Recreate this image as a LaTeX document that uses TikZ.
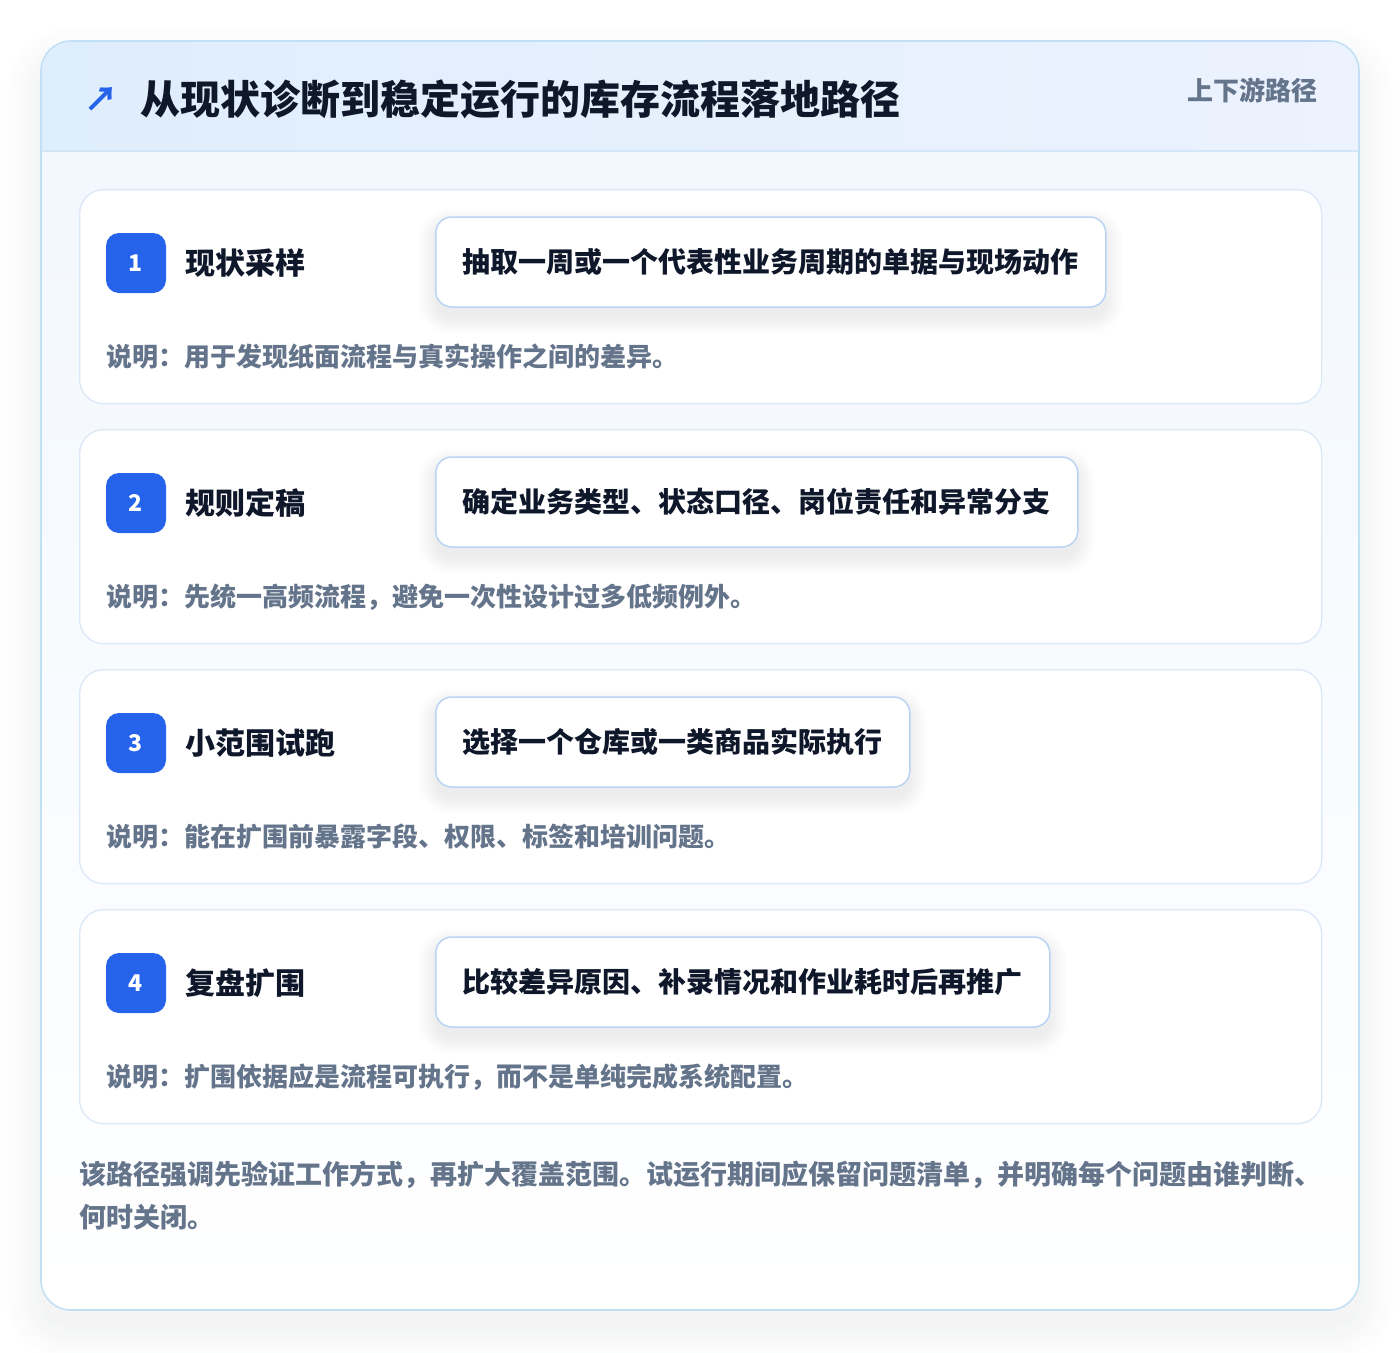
\documentclass[tikz,border=0pt]{standalone}
\usepackage{fontspec}
\setmainfont{Noto Sans CJK SC}
\definecolor{cardborder}{HTML}{C2E0F5}
\definecolor{headleft}{HTML}{DFEEFC}
\definecolor{headright}{HTML}{ECF2FE}
\definecolor{headline}{HTML}{D3E6F7}
\definecolor{bodytop}{HTML}{F1F7FE}
\definecolor{stepborder}{HTML}{DAE8F8}
\definecolor{boxborder}{HTML}{BAD4F4}
\definecolor{badgeblue}{HTML}{2563EB}
\definecolor{darktext}{HTML}{0F172A}
\definecolor{graytext}{HTML}{64748B}
\definecolor{shadowcol}{HTML}{1E293B}
\tikzset{
  stepcard/.style={draw=stepborder, line width=1.3pt, fill=white, rounded corners=24pt,
    minimum width=1242pt, minimum height=214pt, anchor=north west, inner sep=0pt},
  badge/.style={fill=badgeblue, rounded corners=13pt, minimum size=60pt, inner sep=0pt,
    text=white, font=\bfseries\fontsize{23}{23}\selectfont},
  steptitle/.style={anchor=west, inner sep=0pt, text=darktext, font=\bfseries\fontsize{30}{30}\selectfont},
  textbox/.style={anchor=west, draw=boxborder, line width=1.5pt, fill=white, rounded corners=16pt,
    minimum height=90pt, inner xsep=27pt, inner ysep=0pt, text=darktext,
    font=\bfseries\fontsize{28}{28}\selectfont},
  desc/.style={anchor=west, inner sep=0pt, text=graytext, font=\bfseries\fontsize{26}{26}\selectfont},
  foot/.style={anchor=west, inner sep=0pt, text=graytext, font=\bfseries\fontsize{27}{27}\selectfont},
}
\begin{document}
\begin{tikzpicture}[x=1pt,y=-1pt]
\useasboundingbox (0,0) rectangle (1400,1352);
% soft shadow of the outer card
\foreach \k [evaluate=\k as \r using 30+\k] in {0,3,...,36}{
  \fill[shadowcol, opacity=0.0045, rounded corners=\r pt] (41-\k,41-\k+22) rectangle (1359+\k,1310+\k+16);
}
% outer card
\shade[top color=bodytop, bottom color=white, rounded corners=30pt] (41,41) rectangle (1359,1310);
\begin{scope}
  \clip[rounded corners=30pt] (41,41) rectangle (1359,1310);
  \shade[left color=headleft, right color=headright] (41,41) rectangle (1359,151);
  \draw[headline, line width=1.2pt] (41,151) -- (1359,151);
\end{scope}
\draw[cardborder, line width=1.6pt, rounded corners=30pt] (41,41) rectangle (1359,1310);
% header texts
\node[inner sep=0pt, text=badgeblue, font=\bfseries\fontsize{34}{34}\selectfont] (arrow) at (101,99) {↗};
\node[anchor=west, inner sep=0pt, text=darktext, font=\bfseries\fontsize{40}{40}\selectfont] (title) at (140,99) {从现状诊断到稳定运行的库存流程落地路径};
\node[anchor=east, inner sep=0pt, text=graytext, font=\bfseries\fontsize{26}{26}\selectfont] (sub) at (1318,90) {上下游路径};
% steps
\foreach \i/\y/\t/\b/\d in {
  1/189/现状采样/抽取一周或一个代表性业务周期的单据与现场动作/说明：用于发现纸面流程与真实操作之间的差异。,
  2/429/规则定稿/确定业务类型、状态口径、岗位责任和异常分支/说明：先统一高频流程，避免一次性设计过多低频例外。,
  3/669/小范围试跑/选择一个仓库或一类商品实际执行/说明：能在扩围前暴露字段、权限、标签和培训问题。,
  4/909/复盘扩围/比较差异原因、补录情况和作业耗时后再推广/说明：扩围依据应是流程可执行，而不是单纯完成系统配置。}{
  \node[stepcard] (card\i) at (79,\y) {};
  \node[badge] (badge\i) at (136,\y+74) {\i};
  \node[steptitle] (title\i) at (185,\y+74) {\t};
  \node[textbox, opacity=0, text opacity=0] (ghost\i) at (435,\y+73) {\b};
  \foreach \k [evaluate=\k as \r using 16+\k] in {0,2,...,16}{
    \fill[shadowcol, opacity=0.006, rounded corners=\r pt]
      ([xshift=-\k pt, yshift=\k pt-8pt]ghost\i.north west) rectangle ([xshift=\k pt, yshift=-\k pt-10pt]ghost\i.south east);
  }
  \node[textbox] (box\i) at (435,\y+73) {\b};
  \node[desc] (desc\i) at (106,\y+168) {\d};
}
% footer
\node[foot] (foot1) at (79,1175) {该路径强调先验证工作方式，再扩大覆盖范围。试运行期间应保留问题清单，并明确每个问题由谁判断、};
\node[foot] (foot2) at (79,1217) {何时关闭。};
\end{tikzpicture}
\end{document}
